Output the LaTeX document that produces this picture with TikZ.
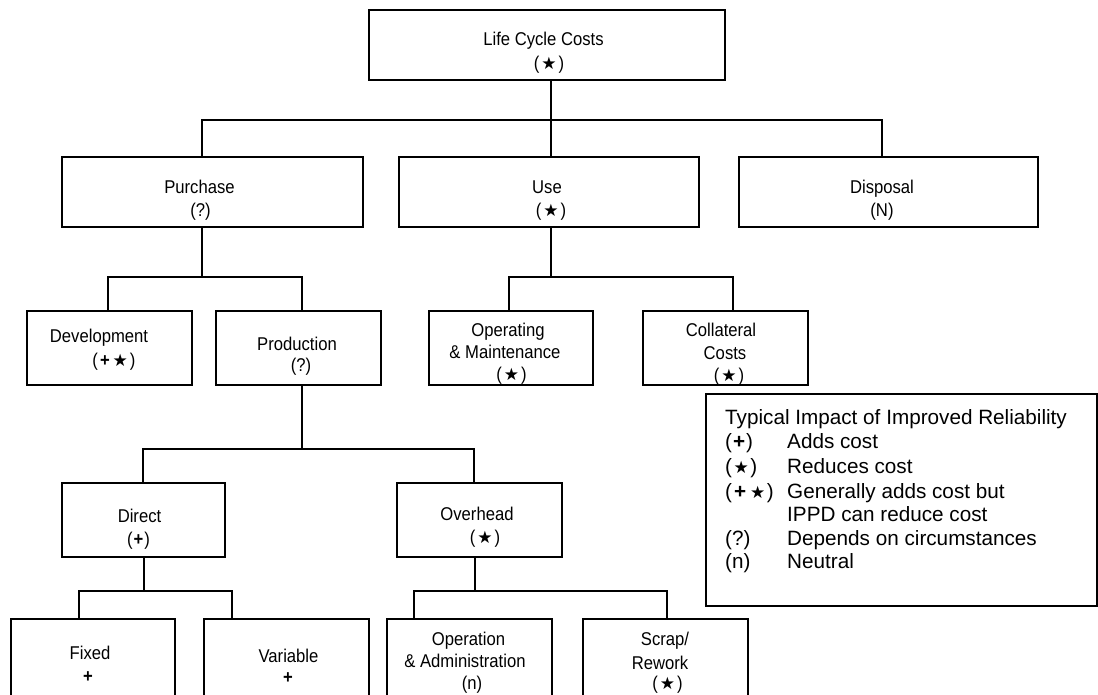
\documentclass[tikz,border=0pt]{standalone}
\usepackage{fontspec}
\setmainfont{Liberation Sans}
\newfontfamily\narrowfont{Liberation Sans}[FakeStretch=0.9]
\newfontfamily\symf{DejaVu Sans}
\newcommand{\mystar}{{\symf\fontsize{17}{17}\selectfont ★}}
\newcommand{\myplus}{{\bfseries +}}
\newcommand{\pstar}{(\hspace{2pt}\mystar\hspace{2pt})}
\newcommand{\pplus}{(\hspace{1pt}\myplus\hspace{1pt})}
\newcommand{\pplusstar}{(\hspace{2pt}\myplus\hspace{3pt}\mystar\hspace{2pt})}
\tikzset{
  box/.style={draw, line width=2pt, inner sep=0pt, anchor=center},
  conn/.style={line width=1.6pt, line join=miter},
  txt/.style={font=\narrowfont\fontsize{18.5}{22}\selectfont, inner sep=0pt, anchor=base},
  leg/.style={font=\fontsize{20.7}{24}\selectfont, inner sep=0pt, anchor=base west}
}
\begin{document}
\begin{tikzpicture}[x=1pt,y=-1pt]
\useasboundingbox (0,0) rectangle (1098,694);
\fill[white] (0,0) rectangle (1098,694);
\clip (0,0) rectangle (1098,694);

% boxes
\node[box, minimum width=356pt, minimum height=70pt] (lcc) at (547,45) {};
\node[box, minimum width=301pt, minimum height=70pt] (purchase) at (212.5,192) {};
\node[box, minimum width=300pt, minimum height=70pt] (use) at (549,192) {};
\node[box, minimum width=299pt, minimum height=70pt] (disposal) at (888.5,192) {};
\node[box, minimum width=165pt, minimum height=74pt] (development) at (109.5,348) {};
\node[box, minimum width=165pt, minimum height=74pt] (production) at (298.5,348) {};
\node[box, minimum width=164pt, minimum height=74pt] (opm) at (511,348) {};
\node[box, minimum width=165pt, minimum height=74pt] (coll) at (725.5,348) {};
\node[box, minimum width=163pt, minimum height=74pt] (direct) at (143.5,520) {};
\node[box, minimum width=165pt, minimum height=74pt] (overhead) at (479.5,520) {};
\node[box, minimum width=164.5pt, minimum height=100pt] (fixed) at (92.75,669) {};
\node[box, minimum width=165pt, minimum height=100pt] (variable) at (286.5,669) {};
\node[box, minimum width=165pt, minimum height=100pt] (opadm) at (469.5,669) {};
\node[box, minimum width=165pt, minimum height=100pt] (scrap) at (665.5,669) {};
\node[box, minimum width=391pt, minimum height=212pt] (legend) at (901.5,500) {};

% connectors
\coordinate (j0) at (551,120); \coordinate (j0l) at (202,120); \coordinate (j0r) at (882,120);
\draw[conn] (lcc.south -| j0) -- (j0 |- use.north);
\draw[conn] (j0l |- purchase.north) -- (j0l) -- (j0r) -- (j0r |- disposal.north);

\coordinate (j1) at (202,277); \coordinate (j1l) at (108,277); \coordinate (j1r) at (302,277);
\draw[conn] (purchase.south -| j1) -- (j1);
\draw[conn] (j1l |- development.north) -- (j1l) -- (j1r) -- (j1r |- production.north);

\coordinate (j2) at (551,277); \coordinate (j2l) at (509,277); \coordinate (j2r) at (733,277);
\draw[conn] (use.south -| j2) -- (j2);
\draw[conn] (j2l |- opm.north) -- (j2l) -- (j2r) -- (j2r |- coll.north);

\coordinate (j3) at (302,449); \coordinate (j3l) at (143,449); \coordinate (j3r) at (474,449);
\draw[conn] (production.south -| j3) -- (j3);
\draw[conn] (j3l |- direct.north) -- (j3l) -- (j3r) -- (j3r |- overhead.north);

\coordinate (j4) at (144,591); \coordinate (j4l) at (79,591); \coordinate (j4r) at (232,591);
\draw[conn] (direct.south -| j4) -- (j4);
\draw[conn] (j4l |- fixed.north) -- (j4l) -- (j4r) -- (j4r |- variable.north);

\coordinate (j5) at (475,591); \coordinate (j5l) at (414,591); \coordinate (j5r) at (667,591);
\draw[conn] (overhead.south -| j5) -- (j5);
\draw[conn] (j5l |- opadm.north) -- (j5l) -- (j5r) -- (j5r |- scrap.north);

% box texts
\node[txt] (tlcc1) at (543.5,45) {Life Cycle Costs};
\node[txt] (tlcc2) at (549,69.5) {\pstar};
\node[txt] (tpur1) at (199.5,193) {Purchase};
\node[txt] (tpur2) at (200.5,216) {(?)};
\node[txt] (tuse1) at (547,193) {Use};
\node[txt] (tuse2) at (551,216) {\pstar};
\node[txt] (tdis1) at (882,193) {Disposal};
\node[txt] (tdis2) at (882,216) {(N)};
\node[txt] (tdev1) at (99,342) {Development};
\node[txt] (tdev2) at (114,366) {\pplusstar};
\node[txt] (tpro1) at (297,350) {Production};
\node[txt] (tpro2) at (301,371) {(?)};
\node[txt] (topm1) at (508,336) {Operating};
\node[txt] (topm2) at (505,358) {\& Maintenance};
\node[txt] (topm3) at (511.5,380) {\pstar};
\node[txt] (tcol1) at (721,336) {Collateral};
\node[txt] (tcol2) at (725,359) {Costs};
\node[txt] (tcol3) at (729,381) {\pstar};
\node[txt] (tdir1) at (139.5,522) {Direct};
\node[txt] (tdir2) at (138.5,545) {\pplus};
\node[txt] (tove1) at (477,520) {Overhead};
\node[txt] (tove2) at (485,543) {\pstar};
\node[txt] (tfix1) at (90,659) {Fixed};
\node[txt] (tfix2) at (88,682.5) {\myplus};
\node[txt] (tvar1) at (288.5,662) {Variable};
\node[txt] (tvar2) at (288,683.5) {\myplus};
\node[txt] (toad1) at (468.5,645) {Operation};
\node[txt] (toad2) at (465,667) {\& Administration};
\node[txt] (toad3) at (472,689) {(n)};
\node[txt] (tscr1) at (665,645) {Scrap/};
\node[txt] (tscr2) at (660,669) {Rework};
\node[txt] (tscr3) at (667.5,689) {\pstar};

% legend texts
\node[leg] (lg0) at (725,424) {Typical Impact of Improved Reliability};
\node[leg] (lg1s) at (725,448) {(\hspace{1pt}\myplus\hspace{1pt})};
\node[leg] (lg1) at (787,448) {Adds cost};
\node[leg] (lg2s) at (725,473) {(\hspace{1.5pt}\mystar\hspace{1.5pt})};
\node[leg] (lg2) at (787,473) {Reduces cost};
\node[leg] (lg3s) at (725,498) {(\hspace{2pt}\myplus\hspace{4pt}\mystar\hspace{1.5pt})};
\node[leg] (lg3) at (787,498) {Generally adds cost but};
\node[leg] (lg4) at (787,521) {IPPD can reduce cost};
\node[leg] (lg5s) at (725,545) {(?)};
\node[leg] (lg5) at (787,545) {Depends on circumstances};
\node[leg] (lg6s) at (725,568) {(n)};
\node[leg] (lg6) at (787,568) {Neutral};
\end{tikzpicture}
\end{document}
